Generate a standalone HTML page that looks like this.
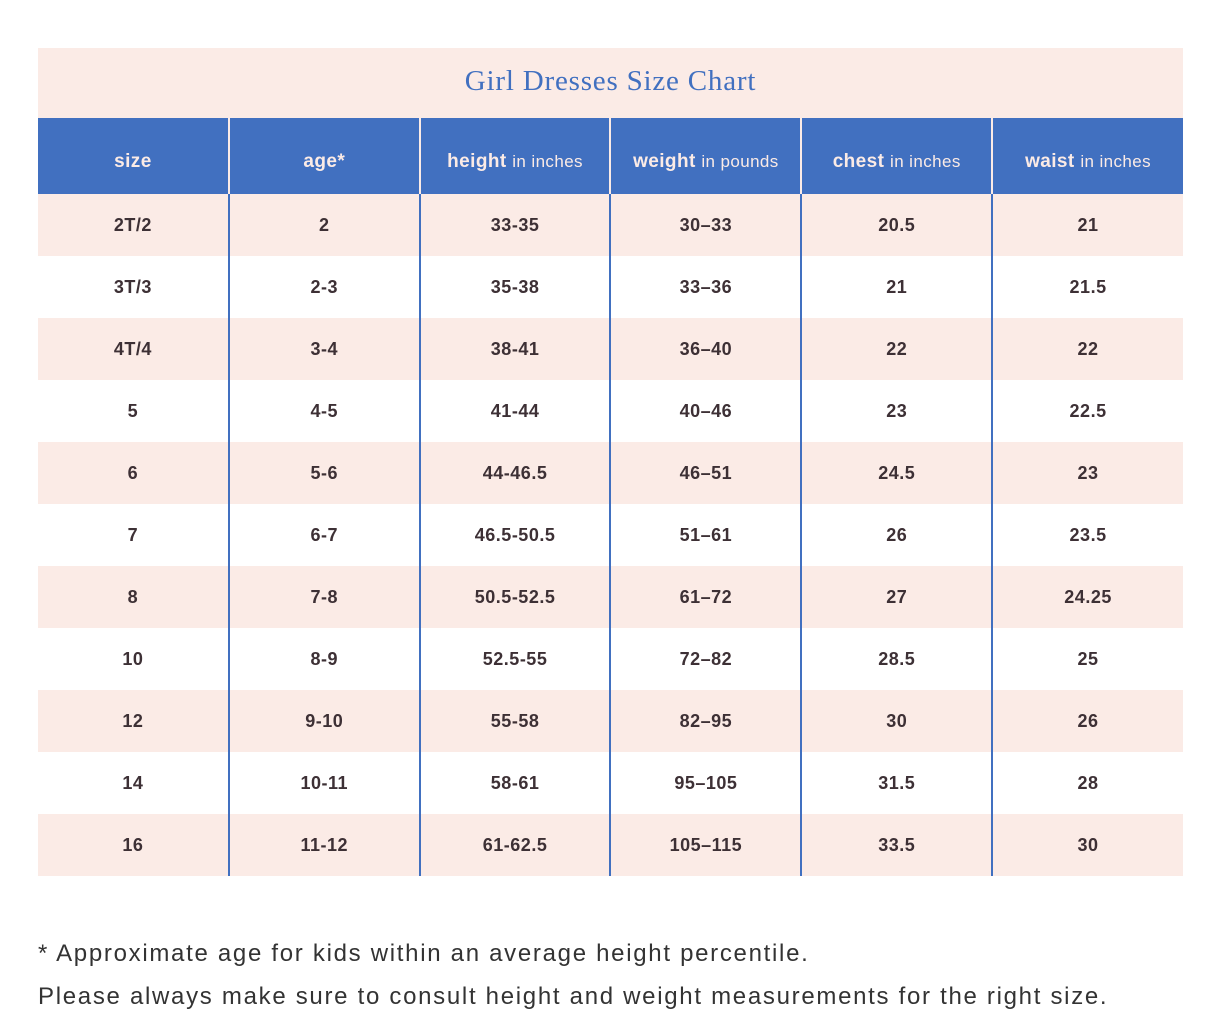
<!DOCTYPE html>
<html><head><meta charset="utf-8"><style>
body{margin:0;width:1227px;height:1028px;background:#fff;position:relative;font-family:"Liberation Sans",sans-serif;overflow:hidden}
.title{position:absolute;left:38px;top:48px;width:1145px;height:70px;background:#fbebe6;color:#4170c0;font-family:"Liberation Serif",serif;font-size:29px;letter-spacing:0.8px;text-align:center;line-height:66px}
table{position:absolute;left:38px;top:118px;border-collapse:collapse;width:1145px;table-layout:fixed}
th{background:#4170c0;color:#fbebe6;height:76px;font-size:19px;font-weight:bold;padding:12px 0 0 0;box-sizing:border-box;border-left:2px solid #fbebe6;white-space:nowrap;letter-spacing:0.4px}
th span{font-weight:normal;font-size:17px}
td{height:62px;padding:0;text-align:center;font-size:18px;font-weight:bold;color:#3d3035;border-left:2px solid #4170c0;letter-spacing:0.5px}
th:first-child,td:first-child{border-left:none}
tr:nth-child(odd) td{background:#fbebe6}
.note{position:absolute;left:38px;font-size:24px;color:#333;letter-spacing:1.7px;white-space:nowrap}
</style></head><body>
<div class="title">Girl Dresses Size Chart</div>
<table>
<thead><tr><th>size</th><th>age*</th><th>height <span>in inches</span></th><th>weight <span>in pounds</span></th><th>chest <span>in inches</span></th><th>waist <span>in inches</span></th></tr></thead>
<tbody>
<tr><td>2T/2</td><td>2</td><td>33-35</td><td>30–33</td><td>20.5</td><td>21</td></tr>
<tr><td>3T/3</td><td>2-3</td><td>35-38</td><td>33–36</td><td>21</td><td>21.5</td></tr>
<tr><td>4T/4</td><td>3-4</td><td>38-41</td><td>36–40</td><td>22</td><td>22</td></tr>
<tr><td>5</td><td>4-5</td><td>41-44</td><td>40–46</td><td>23</td><td>22.5</td></tr>
<tr><td>6</td><td>5-6</td><td>44-46.5</td><td>46–51</td><td>24.5</td><td>23</td></tr>
<tr><td>7</td><td>6-7</td><td>46.5-50.5</td><td>51–61</td><td>26</td><td>23.5</td></tr>
<tr><td>8</td><td>7-8</td><td>50.5-52.5</td><td>61–72</td><td>27</td><td>24.25</td></tr>
<tr><td>10</td><td>8-9</td><td>52.5-55</td><td>72–82</td><td>28.5</td><td>25</td></tr>
<tr><td>12</td><td>9-10</td><td>55-58</td><td>82–95</td><td>30</td><td>26</td></tr>
<tr><td>14</td><td>10-11</td><td>58-61</td><td>95–105</td><td>31.5</td><td>28</td></tr>
<tr><td>16</td><td>11-12</td><td>61-62.5</td><td>105–115</td><td>33.5</td><td>30</td></tr>
</tbody></table>
<div class="note" style="top:940px">* Approximate age for kids within an average height percentile.</div>
<div class="note" style="top:983px">Please always make sure to consult height and weight measurements for the right size.</div>
</body></html>
